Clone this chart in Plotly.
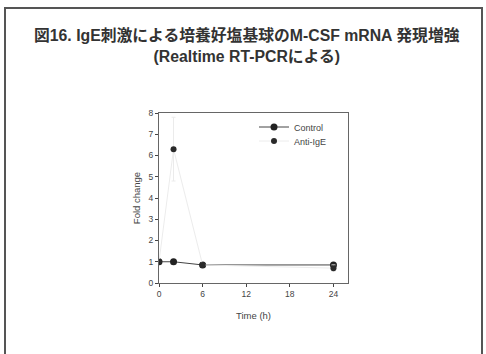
import plotly.graph_objects as go

time_h = [0, 2, 6, 24]
control = [1.0, 1.0, 0.85, 0.85]
anti_ige = [1.0, 6.3, 0.85, 0.7]
anti_ige_err = [0, 1.5, 0.05, 0.15]
x_ticks = [0, 6, 12, 18, 24]
y_ticks = [0, 1, 2, 3, 4, 5, 6, 7, 8]

title_text = "<b>図16. IgE刺激による培養好塩基球のM-CSF mRNA 発現増強<br>(Realtime RT-PCRによる)</b>"

fig = go.Figure()
fig.add_trace(go.Scatter(
    x=time_h, y=control, name="Control", mode="lines+markers",
    line=dict(color="#444444", width=1),
    marker=dict(color="#222222", size=7, symbol="circle"),
    legend="legend",
))
fig.add_trace(go.Scatter(
    x=time_h, y=anti_ige, name="Anti-IgE", mode="lines+markers",
    line=dict(color="#ececec", width=1),
    marker=dict(color="#2a2a2a", size=6, symbol="circle"),
    error_y=dict(type="data", array=anti_ige_err, color="#ebebeb", thickness=1, width=2),
    legend="legend2",
))

L, R, T, B = 159, 348, 113, 283
W, H = 486, 354
pw, ph = R - L, B - T

def px(xp):
    return (xp - L) / pw

def py(yp):
    return (B - yp) / ph

fig.add_shape(type="rect", xref="paper", yref="paper",
              x0=px(5), x1=px(482), y0=py(357), y1=py(8),
              line=dict(color="#555555", width=2), fillcolor="rgba(0,0,0,0)", layer="below")

fig.add_annotation(text=title_text, xref="paper", yref="paper",
                   x=px(247), y=py(45), xanchor="center", yanchor="middle",
                   showarrow=False, align="center",
                   font=dict(family="Liberation Sans, Arial, Noto Sans CJK JP", size=15.8, color="#333333"))

leg_common = dict(xanchor="left", yanchor="middle", bgcolor="rgba(0,0,0,0)",
                  font=dict(size=9, color="#444444"), itemwidth=30)

fig.update_layout(
    width=W, height=H,
    margin=dict(l=L, r=W - R, t=T, b=H - B),
    paper_bgcolor="white", plot_bgcolor="white",
    font=dict(family="Liberation Sans, Arial", color="#444444", size=8.5),
    showlegend=True,
    legend=dict(x=px(254), y=py(127), **leg_common),
    legend2=dict(x=px(254), y=py(141), **leg_common),
    xaxis=dict(range=[0, 26], tickvals=x_ticks, ticks="outside", ticklen=3,
               showline=True, linecolor="#666666", linewidth=1, mirror=True,
               showgrid=False, zeroline=False,
               title=dict(text="Time (h)", font=dict(size=9.5, color="#444444"), standoff=14)),
    yaxis=dict(range=[0, 8], tickvals=y_ticks, ticks="outside", ticklen=3,
               showline=True, linecolor="#666666", linewidth=1, mirror=True,
               showgrid=False, zeroline=False,
               title=dict(text="Fold change", font=dict(size=9.5, color="#444444"), standoff=6)),
)

fig.write_html("out.html")
